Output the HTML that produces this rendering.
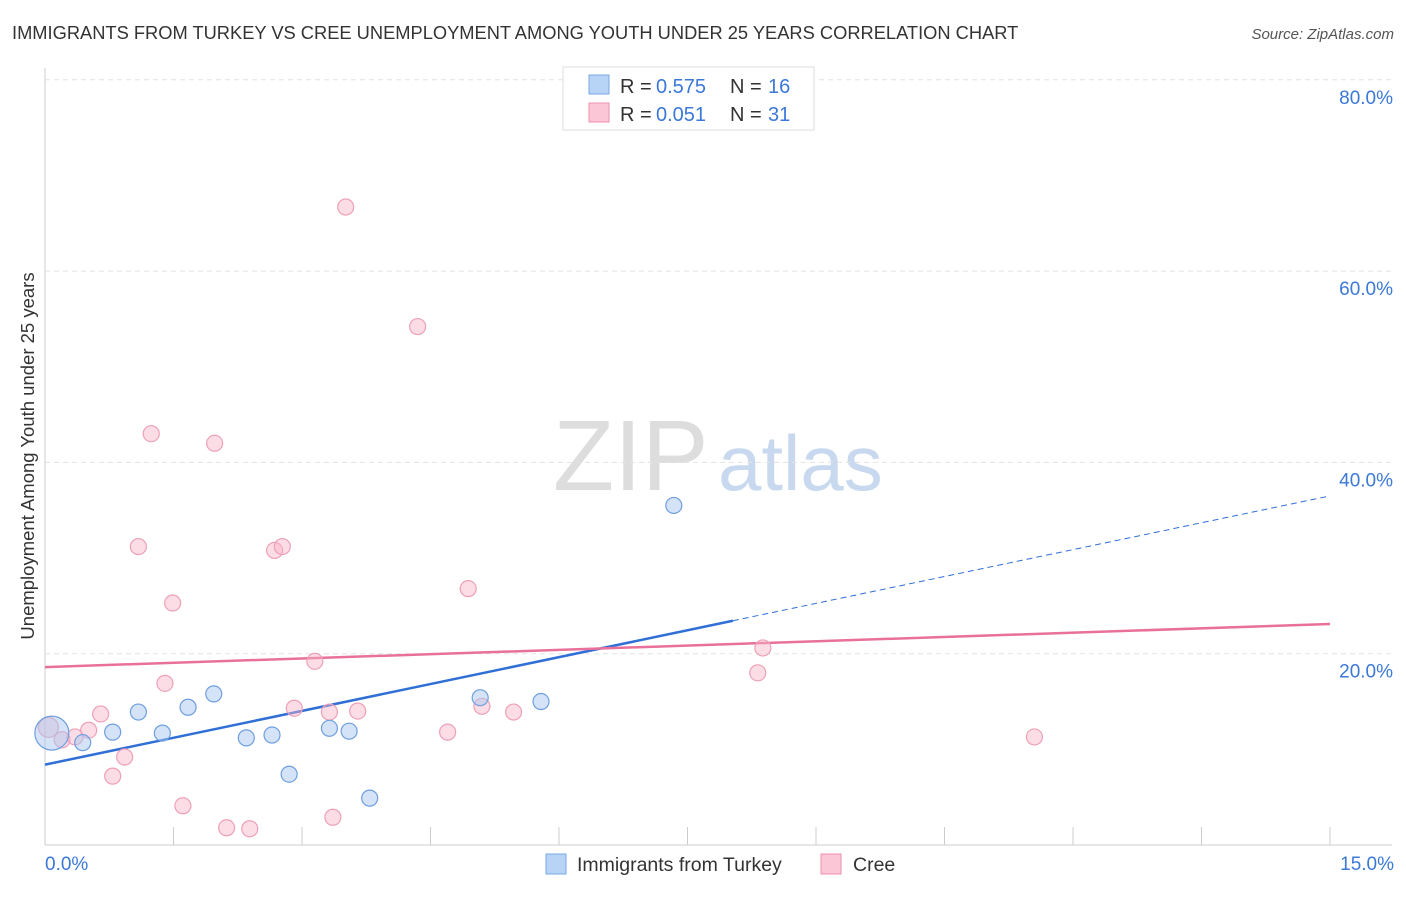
<!DOCTYPE html>
<html><head><meta charset="utf-8"><style>
body{margin:0;background:#fff;font-family:"Liberation Sans",sans-serif;}
svg text{font-family:"Liberation Sans",sans-serif;}
</style></head><body>
<svg id="c" width="1406" height="892" xmlns="http://www.w3.org/2000/svg">
<text x="12" y="39" font-size="18.3" fill="#333">IMMIGRANTS FROM TURKEY VS CREE UNEMPLOYMENT AMONG YOUTH UNDER 25 YEARS CORRELATION CHART</text>
<text x="1394" y="39" font-size="15" fill="#555" font-style="italic" text-anchor="end">Source: ZipAtlas.com</text>
<text x="34" y="456" font-size="18.5" fill="#333" text-anchor="middle" transform="rotate(-90 34 456)">Unemployment Among Youth under 25 years</text>
<text x="553" y="490" font-size="100" fill="#ddd" font-family="Liberation Serif">ZIP</text>
<text x="718" y="490" font-size="78" fill="#c8d9ef">atlas</text>
<g id="grid"></g><g id="lines"></g><g id="pts"></g>
<g>
<rect x="563" y="67" width="251" height="63" fill="#fff" stroke="#ddd"/>
<rect x="589" y="75" width="20" height="19" fill="#b7d3f5" stroke="#7aa8e6"/>
<rect x="589" y="103" width="20" height="19" fill="#fbc7d6" stroke="#ee92ad"/>
<text x="620" y="93" font-size="20" fill="#333">R =</text>
<text x="656" y="93" font-size="20" fill="#3b78d8">0.575</text>
<text x="730" y="93" font-size="20" fill="#333">N =</text>
<text x="768" y="93" font-size="20" fill="#3b78d8">16</text>
<text x="620" y="121" font-size="20" fill="#333">R =</text>
<text x="656" y="121" font-size="20" fill="#3b78d8">0.051</text>
<text x="730" y="121" font-size="20" fill="#333">N =</text>
<text x="768" y="121" font-size="20" fill="#3b78d8">31</text>
</g>
<g>
<rect x="546" y="854" width="20" height="20" fill="#b7d3f5" stroke="#7aa8e6"/>
<text x="577" y="871" font-size="19.5" fill="#333">Immigrants from Turkey</text>
<rect x="821" y="854" width="20" height="20" fill="#fbc7d6" stroke="#ee92ad"/>
<text x="853" y="871" font-size="19.5" fill="#333">Cree</text>
</g>
</svg>
<script>
const blueX=[0.08,0.44,0.79,1.09,1.37,1.67,1.97,2.35,2.65,2.85,3.32,3.55,3.79,5.08,5.79,7.34];
const blueY=[11.7,10.7,11.8,13.9,11.7,14.4,15.8,11.2,11.5,7.4,12.2,11.9,4.9,15.4,15.0,35.5];
const pinkX=[0.04,0.2,0.35,0.51,0.65,0.79,0.93,1.09,1.24,1.4,1.49,1.61,1.98,2.12,2.39,2.68,2.77,2.91,3.15,3.32,3.36,3.51,3.65,4.35,4.7,4.94,5.1,5.47,8.32,8.38,11.55];
const pinkY=[12.3,11.0,11.3,12.0,13.7,7.2,9.2,31.2,43.0,16.9,25.3,4.1,42.0,1.8,1.7,30.8,31.2,14.3,19.2,13.9,2.9,66.7,14.0,54.2,11.8,26.8,14.5,13.9,18.0,20.6,11.3];
const yTicks=[20,40,60,80];
const xTicks=[0,1.5,3,4.5,6,7.5,9,10.5,12,13.5,15];
const blueTrend=[8.4,36.5], blueSolidEnd=8.03;
const pinkTrend=[18.6,23.1];
const sx=v=>45+v/15*1285, sy=v=>845-v/20*191.3;
const NS="http://www.w3.org/2000/svg";
function mk(t,a,p){const e=document.createElementNS(NS,t);for(const k in a)e.setAttribute(k,a[k]);p.appendChild(e);return e;}
const g=document.getElementById('grid'),L=document.getElementById('lines'),P=document.getElementById('pts');
let ax=mk('line',{x1:45,y1:68,x2:45,y2:845,stroke:'#ccc'},g);


let bx=mk('line',{x1:45,y1:845,x2:1392,y2:845,stroke:'#ccc'},g);


yTicks.forEach(v=>{const y=sy(v);
 const l=mk('line',{x1:45,y1:y,x2:1392,y2:y,stroke:'#e2e2e2','stroke-dasharray':'5,4'},g);
 
 
 const t=mk('text',{x:1393,y:y+24,'font-size':19,fill:'#3b78d8','text-anchor':'end'},g);t.textContent=v.toFixed(1)+'%';
 
 });
xTicks.forEach(v=>{const x=sx(v);if(v>0){const l=mk('line',{x1:x,y1:827,x2:x,y2:845,stroke:'#ccc'},g);
 
 }});
[[0,'0.0%',45,'start'],[15,'15.0%',1394,'end']].forEach(a=>{const t=mk('text',{x:a[2],y:870,'font-size':19,fill:'#3b78d8','text-anchor':a[3]},g);t.textContent=a[1];
 
 });
function ty(tr,x){return tr[0]+(tr[1]-tr[0])*x/15;}
let l1=mk('line',{x1:sx(0),y1:sy(ty(blueTrend,0)),x2:sx(blueSolidEnd),y2:sy(ty(blueTrend,blueSolidEnd)),stroke:'#2f6fd6','stroke-width':2.5},L);


let l2=mk('line',{x1:sx(blueSolidEnd),y1:sy(ty(blueTrend,blueSolidEnd)),x2:sx(15),y2:sy(ty(blueTrend,15)),stroke:'#2f6fd6','stroke-width':1,'stroke-dasharray':'6,4'},L);


let l3=mk('line',{x1:sx(0),y1:sy(pinkTrend[0]),x2:sx(15),y2:sy(pinkTrend[1]),stroke:'#e8709a','stroke-width':2.5},L);


pinkX.forEach((x,i)=>{const c=mk('circle',{cx:sx(x),cy:sy(pinkY[i]),r:i==0?10:8,fill:'rgba(248,180,200,0.45)',stroke:'#eea0b8','stroke-width':1.2},P);
 
 });
blueX.forEach((x,i)=>{const c=mk('circle',{cx:sx(x),cy:sy(blueY[i]),r:i==0?17:8,fill:'rgba(170,200,240,0.5)',stroke:'#6f9fe0','stroke-width':1.2},P);
 
 });
</script>
</body></html>
